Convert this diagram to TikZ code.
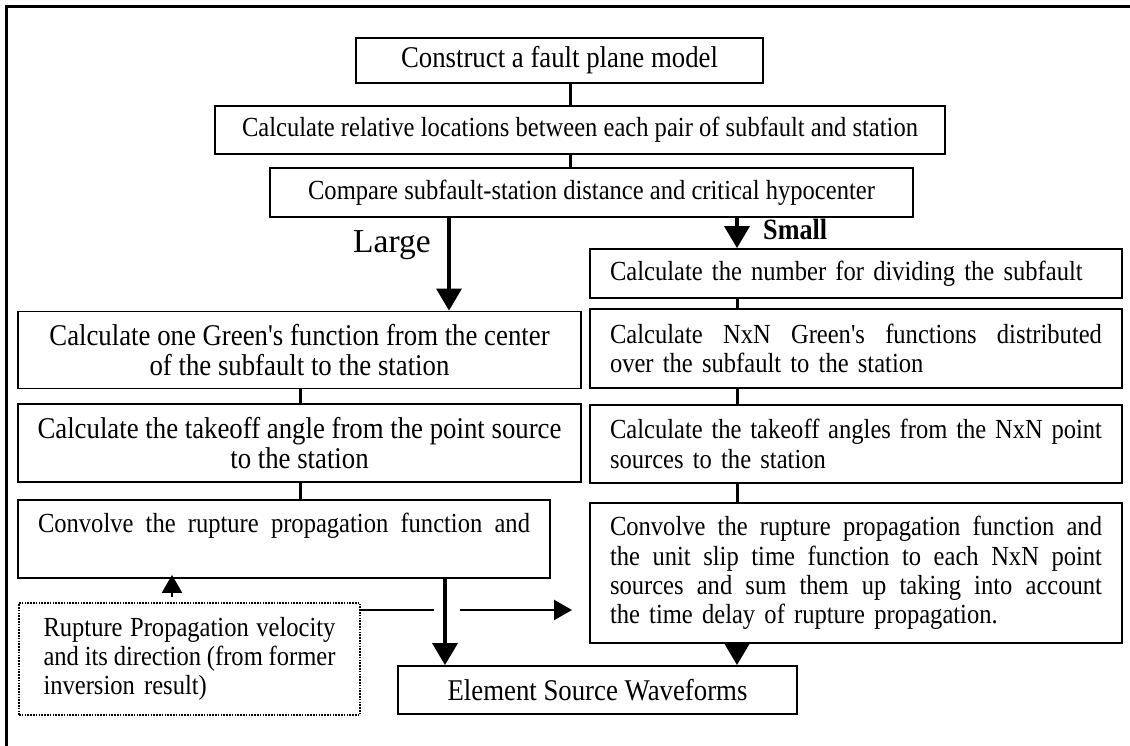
\documentclass[tikz,border=0pt]{standalone}
\usepackage{fontspec}
\setmainfont{Liberation Serif}[Ligatures=TeXOff, FakeStretch=0.89]
\newfontfamily\plainserif{Liberation Serif}[Ligatures=TeXOff]
\usetikzlibrary{arrows.meta,calc}
% a line of given width whose inter-word spaces are stretched to fill it
\newcommand{\jrow}[2][492pt]{\leavevmode\hbox to #1{\spaceskip=.22em plus 2em minus .07em\relax #2}}
\newcommand{\noind}{\setlength{\parindent}{0pt}}
\tikzset{
  box/.style={draw, line width=1.8pt, inner sep=0pt, fill=white,
    execute at begin node=\noind},
  sm/.style={font=\fontsize{27.6}{29.2}\selectfont},
  bg/.style={font=\fontsize{30.1}{29.5}\selectfont},
  link/.style={line width=3pt},
  flow/.style={line width=3.5pt, -{Triangle[length=22pt,width=25pt]}},
  thinline/.style={line width=2.2pt},
  thinflow/.style={line width=2.2pt, -{Triangle[length=18pt,width=20pt]}},
  dotbox/.style={draw, line width=1.5pt, dash pattern=on 1.6pt off 1.2pt,
    inner sep=0pt, fill=white, execute at begin node=\noind},
  lbl/.style={inner sep=0pt, anchor=base west},
}
\begin{document}
\begin{tikzpicture}[x=1pt, y=-1pt]
\useasboundingbox (0,0) rectangle (1130,746);
% frame
\draw[line width=3pt] (6,746) -- (6,7) -- (1130,7);

% top column
\node[box,bg,minimum width=407pt,minimum height=45pt] (b1) at (559.5,60.5)
  {Construct a fault plane model};
\node[box,sm,minimum width=730pt,minimum height=48pt] (b2) at (580,130)
  {Calculate relative locations between each pair of subfault and station};
\node[box,sm,minimum width=643pt,minimum height=49pt] (b3) at (591.5,192.5)
  {Compare subfault-station distance and critical hypocenter};

% right column (small subfault distance)
\node[box,sm,minimum width=532pt,minimum height=49pt,text width=492pt,align=left]
  (R1) at (856,273.5) {Calculate the number for dividing the subfault};
\node[box,sm,minimum width=532pt,minimum height=79pt,text width=492pt,align=left]
  (R2) at (856,348.5)
  {\jrow{Calculate NxN Green's functions distributed}\\over the subfault to the station};
\node[box,sm,minimum width=532pt,minimum height=78pt,text width=492pt,align=left]
  (R3) at (856,444)
  {\jrow{Calculate the takeoff angles from the NxN point}\\sources to the station};
\node[box,sm,minimum width=532pt,minimum height=140pt,text width=492pt,align=left]
  (R4) at (856,573)
  {\jrow{Convolve the rupture propagation function and}\\
   \jrow{the unit slip time function to each NxN point}\\
   \jrow{sources and sum them up taking into account}\\
   the time delay of rupture propagation.};

% left column (large subfault distance)
\node[box,bg,minimum width=563pt,minimum height=77pt,align=center] (L1) at (299.5,350)
  {Calculate one Green's function from the center\\of the subfault to the station};
\node[box,bg,minimum width=563pt,minimum height=78pt,align=center] (L2) at (299.5,443)
  {Calculate the takeoff angle from the point source\\to the station};
\node[box,sm,minimum width=532pt,text width=492pt,align=left,
  text height=32pt,text depth=46pt] (L3) at (284,539)
  {\jrow{Convolve the rupture propagation function and}};

% external input
\node[dotbox,sm,minimum width=341pt,minimum height=112pt,text width=292pt,align=left]
  (dot) at (189.5,659)
  {\jrow[292pt]{Rupture Propagation velocity}\\\jrow[292pt]{and its direction (from former}\\inversion result)};

% result
\node[box,bg,minimum width=399pt,minimum height=48pt] (El) at (597.5,690)
  {Element Source Waveforms};

% branch labels
\node[lbl,font=\plainserif\fontsize{33.5}{36}\selectfont] (large) at (353,252) {Large};
\node[lbl,font=\bfseries\fontsize{29.4}{30}\selectfont] (small) at (763,240) {Small};

% guide coordinates for vertical connectors
\coordinate (cx) at (570,0);
\coordinate (lx) at (449,0);
\coordinate (rx) at (737,0);
\coordinate (sx) at (300,0);
\coordinate (ex) at (445,0);
\coordinate (dx) at (172,0);
\coordinate (hy) at (0,610);
\coordinate (gapA) at (434,610);
\coordinate (gapB) at (460,610);
\coordinate (hend) at (572,610);

\draw[link] (cx |- b1.south) -- (cx |- b2.north);
\draw[link] (cx |- b2.south) -- (cx |- b3.north);
\draw[flow] (lx |- b3.south) -- (lx |- L1.north);
\draw[flow] (rx |- b3.south) -- (rx |- R1.north);
\draw[link] (rx |- R1.south) -- (rx |- R2.north);
\draw[link] (rx |- R2.south) -- (rx |- R3.north);
\draw[link] (rx |- R3.south) -- (rx |- R4.north);
\draw[link] (sx |- L1.south) -- (sx |- L2.north);
\draw[link] (sx |- L2.south) -- (sx |- L3.north);
\draw[flow] (ex |- L3.south) -- (ex |- El.north);
\draw[flow] (rx |- R4.south) -- (rx |- El.north);
\draw[thinflow, shorten <=5pt, shorten >=-4pt] (dx |- dot.north) -- (dx |- L3.south);
\draw[thinline] (dot.east |- hy) -- (gapA);
\draw[thinflow] (gapB) -- (hend);
\end{tikzpicture}
\end{document}
